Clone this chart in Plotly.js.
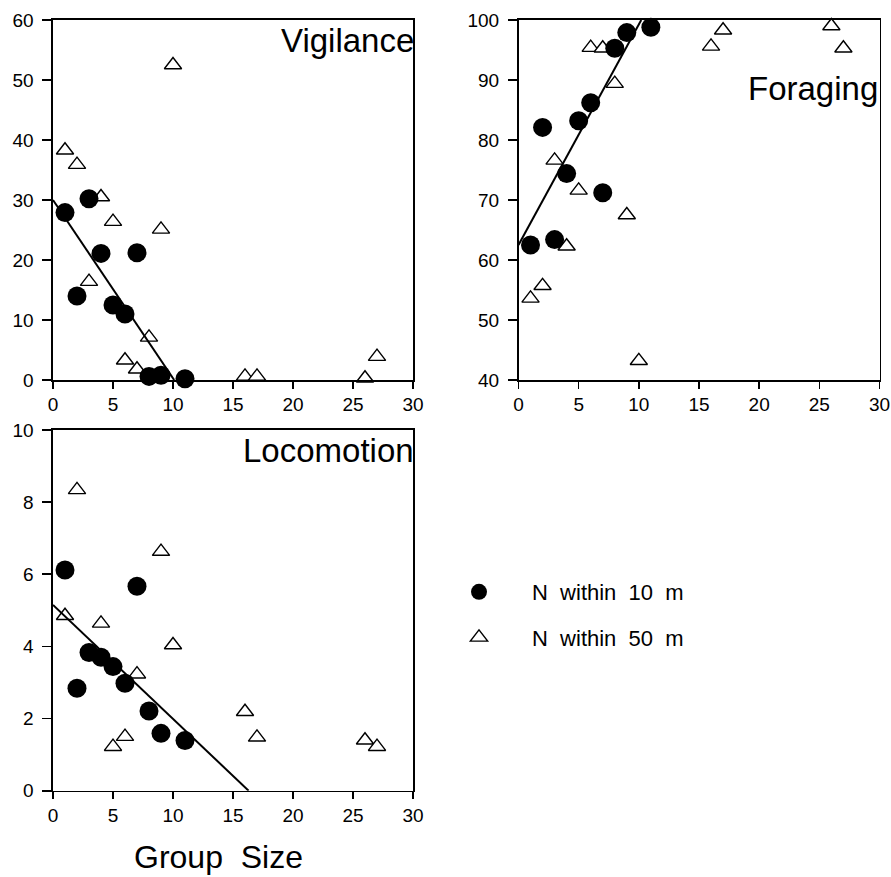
<!DOCTYPE html>
<html>
<head>
<meta charset="utf-8">
<script src="https://cdn.plot.ly/plotly-3.0.1.min.js"></script>
<style>html,body{margin:0;padding:0;background:#fff;}#chart{width:891px;height:877px;}</style>
</head>
<body>
<div id="chart"></div>
<script>
// Group sizes
const groupX10 = [1, 2, 3, 4, 5, 6, 7, 8, 9, 11];
const groupX50 = [1, 2, 3, 4, 5, 6, 7, 8, 9, 10, 16, 17, 26, 27];
const locoX50 = [1, 2, 4, 5, 6, 7, 9, 10, 16, 17, 26, 27];

// Vigilance (%)
const vig10 = [27.9, 14.0, 30.2, 21.1, 12.5, 11.0, 21.2, 0.6, 0.8, 0.2];
const vig50 = [38.3, 35.9, 16.4, 30.5, 26.4, 3.3, 1.8, 7.1, 25.1, 52.5, 0.6, 0.6, 0.3, 3.9];
const vigLineX = [0, 10.1];
const vigLineY = [30, 0];

// Foraging (%)
const for10 = [62.5, 82.1, 63.4, 74.4, 83.2, 86.2, 71.2, 95.3, 97.9, 98.8];
const for50 = [53.6, 55.7, 76.6, 62.3, 71.6, 95.4, 95.3, 89.4, 67.5, 43.2, 95.6, 98.3, 99.0, 95.3];
const forLineX = [0, 10.2];
const forLineY = [62.5, 100];

// Locomotion (%)
const loc10 = [6.12, 2.84, 3.83, 3.70, 3.44, 2.98, 5.67, 2.21, 1.59, 1.39];
const loc50 = [4.85, 8.34, 4.64, 1.22, 1.50, 3.23, 6.63, 4.04, 2.19, 1.48, 1.40, 1.22];
const locLineX = [0, 16.3];
const locLineY = [5.15, 0];

const panelTitles = ['Vigilance', 'Foraging', 'Locomotion'];
const seriesNames = ['N\u00a0 within\u00a0 10\u00a0 m', 'N\u00a0 within\u00a0 50\u00a0 m'];
const xTitle = 'Group\u00a0 Size';

const FONT = 'Liberation Sans, Arial, Helvetica, sans-serif';
const W = 891, H = 877;

function tri(x, y, xa, ya, show) {
  return {x: x, y: y, xaxis: xa, yaxis: ya, type: 'scatter', mode: 'markers',
    name: seriesNames[1], legendgroup: 'g50', showlegend: show, legendrank: 2,
    cliponaxis: false,
    marker: {symbol: 'triangle-up', size: 15, color: '#fff', line: {color: '#000', width: 1.4}}};
}
function dot(x, y, xa, ya, show) {
  return {x: x, y: y, xaxis: xa, yaxis: ya, type: 'scatter', mode: 'markers',
    name: seriesNames[0], legendgroup: 'g10', showlegend: show, legendrank: 1,
    cliponaxis: false,
    marker: {symbol: 'circle', size: 19, color: '#000', line: {color: '#000', width: 0}}};
}
function fit(x, y, xa, ya) {
  return {x: x, y: y, xaxis: xa, yaxis: ya, type: 'scatter', mode: 'lines',
    showlegend: false, hoverinfo: 'skip', line: {color: '#000', width: 2}};
}

const data = [
  tri(groupX50, vig50, 'x', 'y', true),
  dot(groupX10, vig10, 'x', 'y', true),
  fit(vigLineX, vigLineY, 'x', 'y'),
  tri(groupX50, for50, 'x2', 'y2', false),
  dot(groupX10, for10, 'x2', 'y2', false),
  fit(forLineX, forLineY, 'x2', 'y2'),
  tri(locoX50, loc50, 'x3', 'y3', false),
  dot(groupX10, loc10, 'x3', 'y3', false),
  fit(locLineX, locLineY, 'x3', 'y3')
];

function xa(domain, anchor) {
  return {domain: domain, anchor: anchor, range: [0, 30], dtick: 5, tick0: 0,
    showline: true, mirror: true, linecolor: '#000', linewidth: 1.6,
    ticks: 'outside', ticklen: 7, tickwidth: 1.6, tickcolor: '#000',
    showgrid: false, zeroline: false, ticklabelstandoff: 0, ticklabeloverflow: 'allow',
    tickfont: {family: FONT, size: 19, color: '#000'}, fixedrange: true};
}
function ya(domain, anchor, range, dtick) {
  return {domain: domain, anchor: anchor, range: range, dtick: dtick,
    showline: true, mirror: true, linecolor: '#000', linewidth: 1.6,
    ticks: 'outside', ticklen: 9, tickwidth: 1.6, tickcolor: '#000',
    showgrid: false, zeroline: false, ticklabelstandoff: 5, ticklabeloverflow: 'allow',
    tickfont: {family: FONT, size: 19, color: '#000'}, fixedrange: true};
}

const leftDom = [53 / W, 413 / W];
const rightDom = [518.5 / W, 879.5 / W];
const topDom = [(H - 380) / H, (H - 20) / H];
const botDom = [(H - 790.7) / H, (H - 430) / H];

const titleFont = {family: FONT, size: 33, color: '#000'};

const layout = {
  width: W, height: H,
  margin: {l: 0, r: 0, t: 0, b: 0},
  paper_bgcolor: '#fff', plot_bgcolor: '#fff',
  showlegend: true,
  xaxis: xa(leftDom, 'y'),
  yaxis: ya(topDom, 'x', [0, 60], 10),
  xaxis2: xa(rightDom, 'y2'),
  yaxis2: ya(topDom, 'x2', [40, 100], 10),
  xaxis3: xa(leftDom, 'y3'),
  yaxis3: ya(botDom, 'x3', [0, 10], 2),
  legend: {x: 426 / W, y: (H - 571) / H, xanchor: 'left', yanchor: 'top',
    font: {family: FONT, size: 22, color: '#000'}, itemwidth: 96,
    tracegroupgap: 14, traceorder: 'grouped', bgcolor: 'rgba(0,0,0,0)', borderwidth: 0},
  annotations: [
    {text: panelTitles[0], xref: 'x domain', yref: 'y domain', x: 1, y: 1, xanchor: 'right', yanchor: 'top',
      xshift: 3, showarrow: false, font: titleFont},
    {text: panelTitles[1], xref: 'x2 domain', yref: 'y2 domain', x: 1, y: 0.867, xanchor: 'right', yanchor: 'top',
      xshift: 0, showarrow: false, font: titleFont},
    {text: panelTitles[2], xref: 'x3 domain', yref: 'y3 domain', x: 1, y: 1, xanchor: 'right', yanchor: 'top',
      xshift: 3, showarrow: false, font: titleFont},
    {text: xTitle, xref: 'paper', yref: 'paper', x: 218 / W, y: (H - 876) / H, xanchor: 'center', yanchor: 'bottom',
      showarrow: false, borderpad: 0, font: {family: FONT, size: 32, color: '#000'}}
  ]
};

Plotly.newPlot('chart', data, layout, {displayModeBar: false, staticPlot: true});
</script>
</body>
</html>
